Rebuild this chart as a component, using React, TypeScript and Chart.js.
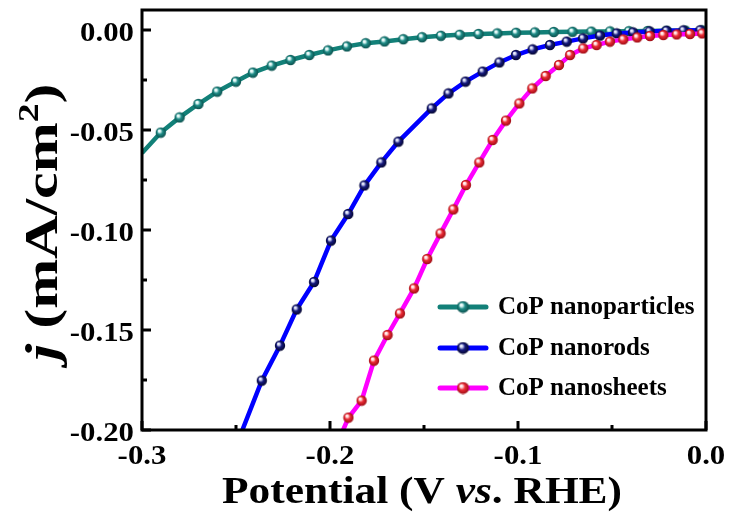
import React, { useEffect, useRef } from "react";
import { Chart, registerables } from "chart.js";
Chart.register(...registerables);

// ---------- data ----------
const particlesX = [-0.3, -0.29, -0.28, -0.27, -0.26, -0.25, -0.241, -0.231, -0.221, -0.211, -0.201, -0.191, -0.181, -0.171, -0.161, -0.151, -0.141, -0.131, -0.121, -0.111, -0.101, -0.091, -0.081, -0.071, -0.061, -0.051, -0.041, -0.031, -0.021, -0.011, -0.002];
const particlesY = [-0.0615, -0.0513, -0.0437, -0.037, -0.0308, -0.0258, -0.0213, -0.0178, -0.015, -0.0125, -0.0102, -0.0082, -0.0066, -0.0057, -0.0046, -0.0036, -0.0029, -0.0024, -0.002, -0.0017, -0.0014, -0.0012, -0.001, -0.0009, -0.0008, -0.0007, -0.0006, -0.0005, -0.0004, -0.0003, -0.0002];

const rodsX = [-0.2466, -0.2363, -0.2266, -0.2177, -0.2085, -0.1995, -0.1903, -0.1817, -0.1727, -0.1636, -0.1459, -0.137, -0.1279, -0.1188, -0.1099, -0.1011, -0.0922, -0.083, -0.0741, -0.0654, -0.0564, -0.0475, -0.0388, -0.03, -0.021, -0.012, -0.003];
const rodsY = [-0.2, -0.1753, -0.1578, -0.1397, -0.126, -0.1053, -0.092, -0.0777, -0.0662, -0.0558, -0.0392, -0.0317, -0.0258, -0.0208, -0.0162, -0.0125, -0.0097, -0.0075, -0.0058, -0.0042, -0.0028, -0.0017, -0.0012, -0.0007, -0.0004, -0.0002, -0.0001];

const sheetsX = [-0.193, -0.1902, -0.1832, -0.1766, -0.1694, -0.1628, -0.1553, -0.1483, -0.1412, -0.1344, -0.1277, -0.1206, -0.1135, -0.1064, -0.0993, -0.0924, -0.0853, -0.0782, -0.0723, -0.0653, -0.0582, -0.0511, -0.044, -0.0366, -0.0298, -0.0227, -0.0156, -0.0085, -0.002];
const sheetsY = [-0.2, -0.1938, -0.1853, -0.1653, -0.1525, -0.1417, -0.1292, -0.1145, -0.1017, -0.0897, -0.0775, -0.0662, -0.055, -0.0453, -0.0367, -0.0292, -0.023, -0.0175, -0.0125, -0.0092, -0.0075, -0.0058, -0.0047, -0.0037, -0.003, -0.0025, -0.0022, -0.002, -0.0017];

const seriesNames = ["CoP nanoparticles", "CoP nanorods", "CoP nanosheets"];
const xTicks = [-0.3, -0.2, -0.1, 0.0];
const xMinorTicks = [-0.25, -0.15, -0.05];
const yTicks = [0.0, -0.05, -0.1, -0.15, -0.2];
const yMinorTicks = [-0.025, -0.075, -0.125, -0.175];

// ---------- styles ----------
const lineColors = ["#128078", "#0000ff", "#ff00ff"];
const markerColors = [
  { light: "#d8f4f2", base: "#1f8d88", dark: "#0a4f4c" },
  { light: "#c8cdf0", base: "#161a7e", dark: "#04052e" },
  { light: "#ffd8d8", base: "#ec2c36", dark: "#9c0c14" },
];
const SERIF = '"Liberation Serif", "Times New Roman", serif';

function makeSphere(c: { light: string; base: string; dark: string }, r: number) {
  const size = Math.ceil(r * 2 + 1);
  const cv = document.createElement("canvas");
  cv.width = size;
  cv.height = size;
  const g = cv.getContext("2d")!;
  const cx = size / 2;
  const grad = g.createRadialGradient(cx - r * 0.35, cx - r * 0.4, r * 0.05, cx, cx, r);
  grad.addColorStop(0, "#ffffff");
  grad.addColorStop(0.22, c.light);
  grad.addColorStop(0.5, c.base);
  grad.addColorStop(1, c.dark);
  g.fillStyle = grad;
  g.beginPath();
  g.arc(cx, cx, r, 0, Math.PI * 2);
  g.fill();
  return cv;
}

function zip(xs: number[], ys: number[]) {
  return xs.map((x, i) => ({ x, y: ys[i] }));
}

export default function App() {
  const ref = useRef<HTMLCanvasElement | null>(null);

  useEffect(() => {
    if (!ref.current) return;
    const spheres = markerColors.map((c) => makeSphere(c, 5.2));
    const legendSpheres = markerColors.map((c) => makeSphere(c, 6));
    const dataSets = [zip(particlesX, particlesY), zip(rodsX, rodsY), zip(sheetsX, sheetsY)];

    const framePlugin = {
      id: "frame",
      afterDatasetsDraw(chart: any) {
        const ctx = chart.ctx as CanvasRenderingContext2D;
        const a = chart.chartArea;
        const xs = chart.scales.x;
        const ys = chart.scales.y;
        ctx.save();
        // frame
        ctx.strokeStyle = "#000";
        ctx.lineWidth = 3;
        ctx.strokeRect(a.left, a.top, a.right - a.left, a.bottom - a.top);
        // ticks (inward)
        ctx.lineWidth = 3;
        ctx.beginPath();
        xTicks.forEach((v) => {
          const px = xs.getPixelForValue(v);
          ctx.moveTo(px, a.bottom);
          ctx.lineTo(px, a.bottom - 9);
        });
        xMinorTicks.forEach((v) => {
          const px = xs.getPixelForValue(v);
          ctx.moveTo(px, a.bottom);
          ctx.lineTo(px, a.bottom - 5);
        });
        yTicks.forEach((v) => {
          const py = ys.getPixelForValue(v);
          ctx.moveTo(a.left, py);
          ctx.lineTo(a.left + 9, py);
        });
        yMinorTicks.forEach((v) => {
          const py = ys.getPixelForValue(v);
          ctx.moveTo(a.left, py);
          ctx.lineTo(a.left + 5, py);
        });
        ctx.stroke();

        // tick labels
        ctx.fillStyle = "#000";
        ctx.font = `bold 28px ${SERIF}`;
        const sx = 1.1;
        xTicks.forEach((v) => {
          const px = xs.getPixelForValue(v);
          const t = Math.abs(v) < 1e-9 ? "0.0" : v.toFixed(1);
          ctx.save();
          ctx.translate(px, 464);
          ctx.scale(sx, 1);
          ctx.textAlign = "center";
          ctx.textBaseline = "alphabetic";
          ctx.fillText(t, 0, 0);
          ctx.restore();
        });
        yTicks.forEach((v) => {
          const py = ys.getPixelForValue(v);
          const t = Math.abs(v) < 1e-9 ? "0.00" : v.toFixed(2);
          ctx.save();
          ctx.translate(a.left - 8, py + 11);
          ctx.scale(sx, 1);
          ctx.textAlign = "right";
          ctx.textBaseline = "alphabetic";
          ctx.fillText(t, 0, 0);
          ctx.restore();
        });

        // x title
        ctx.save();
        const parts: [string, string][] = [
          ["Potential (V ", "bold"],
          ["vs", "italic bold"],
          [". RHE)", "bold"],
        ];
        const fs = 38;
        let w = 0;
        parts.forEach(([s, f]) => {
          ctx.font = `${f} ${fs}px ${SERIF}`;
          w += ctx.measureText(s).width;
        });
        const targetW = 400;
        const k = targetW / w;
        ctx.translate(422 - targetW / 2, 503);
        ctx.scale(k, 1);
        let cx = 0;
        ctx.textAlign = "left";
        ctx.textBaseline = "alphabetic";
        parts.forEach(([s, f]) => {
          ctx.font = `${f} ${fs}px ${SERIF}`;
          ctx.fillText(s, cx, 0);
          cx += ctx.measureText(s).width;
        });
        ctx.restore();

        // y title
        ctx.save();
        const yfs = 46;
        const yparts: [string, string, number, number][] = [
          ["j", "italic bold", yfs, 0],
          [" (mA/cm", "bold", yfs, 0],
          ["2", "bold", Math.round(yfs * 0.62), -yfs * 0.42],
          [")", "bold", yfs, 0],
        ];
        let yw = 0;
        yparts.forEach(([s, f, size]) => {
          ctx.font = `${f} ${size}px ${SERIF}`;
          yw += ctx.measureText(s).width;
        });
        const yTarget = 277;
        const yk = yTarget / yw;
        ctx.translate(57, 222);
        ctx.rotate(-Math.PI / 2);
        ctx.translate(-yTarget / 2, 0);
        ctx.scale(yk, 1);
        let yc = 0;
        yparts.forEach(([s, f, size, dy]) => {
          ctx.font = `${f} ${size}px ${SERIF}`;
          ctx.fillText(s, yc, dy);
          yc += ctx.measureText(s).width;
        });
        ctx.restore();

        // legend
        const rows = [307, 348, 388];
        seriesNames.forEach((name, i) => {
          const y = rows[i];
          ctx.strokeStyle = lineColors[i];
          ctx.lineWidth = 5;
          ctx.lineCap = "round";
          ctx.beginPath();
          ctx.moveTo(440, y);
          ctx.lineTo(486, y);
          ctx.stroke();
          const s = legendSpheres[i];
          ctx.drawImage(s, 463 - s.width / 2, y - s.height / 2);
          ctx.fillStyle = "#000";
          ctx.font = `bold 25px ${SERIF}`;
          ctx.textAlign = "left";
          ctx.textBaseline = "middle";
          ctx.fillText(name, 498, y + 1);
        });
        ctx.restore();
      },
    };

    const chart = new Chart(ref.current, {
      type: "scatter",
      data: {
        datasets: dataSets.map((d, i) => ({
          label: seriesNames[i],
          data: d,
          showLine: true,
          borderColor: lineColors[i],
          borderWidth: 4.5,
          tension: 0,
          order: 3 - i,
          pointStyle: spheres[i] as any,
          pointRadius: (c: any) => (c.dataIndex === 0 ? 0 : 5),
          pointHoverRadius: (c: any) => (c.dataIndex === 0 ? 0 : 5),
        })),
      },
      options: {
        animation: false,
        responsive: false,
        maintainAspectRatio: false,
        events: [],
        layout: { padding: { top: 10, right: 23, left: 0, bottom: 0 } },
        plugins: { legend: { display: false }, tooltip: { enabled: false } },
        scales: {
          x: {
            type: "linear",
            min: -0.3,
            max: 0,
            ticks: { display: false, stepSize: 0.1 },
            grid: { display: false },
            border: { display: false },
            afterFit: (s: any) => {
              s.height = 84;
            },
          },
          y: {
            type: "linear",
            min: -0.2,
            max: 0.01,
            ticks: { display: false, stepSize: 0.05 },
            grid: { display: false },
            border: { display: false },
            afterFit: (s: any) => {
              s.width = 142;
            },
          },
        },
      },
      plugins: [framePlugin],
    });
    return () => chart.destroy();
  }, []);

  return (
    <div style={{ position: "fixed", left: 0, top: 0, width: 729, height: 514, background: "#fff" }}>
      <canvas ref={ref} width={729} height={514} style={{ width: 729, height: 514, display: "block" }} />
    </div>
  );
}
